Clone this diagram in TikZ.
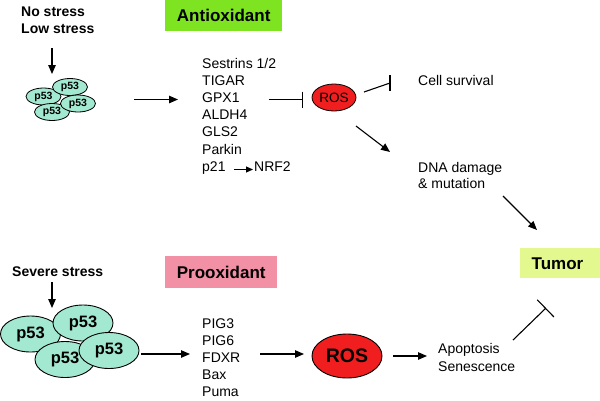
\documentclass[tikz,border=0pt]{standalone}
\usepackage{fontspec}
\setmainfont{Liberation Sans}
\usetikzlibrary{arrows.meta,shapes.geometric,calc}
\definecolor{antigreen}{HTML}{7EE320}
\definecolor{propink}{HTML}{F290A6}
\definecolor{tumorcol}{HTML}{E3F98F}
\definecolor{p53col}{HTML}{A3E8D0}
\definecolor{roscol}{HTML}{F01E1E}
\begin{document}
\begin{tikzpicture}[x=1pt,y=-1pt,
 lbl/.style={anchor=base west, inner sep=0, font=\fontsize{14}{16}\selectfont},
 blbl/.style={anchor=base west, inner sep=0, font=\fontsize{14}{16}\selectfont\bfseries},
 hdr/.style={inner sep=0, font=\fontsize{17}{19}\selectfont\bfseries},
 arr/.style={line width=1.1pt, -{Triangle[length=9pt,width=7.5pt]}},
 sarr/.style={line width=1pt, -{Triangle[length=7pt,width=6pt]}},
 inh/.style={line width=1.1pt},
 psmall/.style={ellipse, draw, line width=0.8pt, fill=p53col, minimum width=35pt, minimum height=17pt, inner sep=0, font=\fontsize{10.5}{12}\selectfont\bfseries},
 pbig/.style={ellipse, draw, line width=0.9pt, fill=p53col, minimum width=60pt, minimum height=36pt, inner sep=0, font=\fontsize{16.5}{18}\selectfont\bfseries},
]
\useasboundingbox (0,0) rectangle (600,400);
\fill[white] (0,0) rectangle (600,400);

% header boxes
\node[hdr, fill=antigreen, minimum width=117pt, minimum height=31pt, anchor=north west] (antibox) at (165,0) {Antioxidant};
\node[hdr, fill=propink, minimum width=112pt, minimum height=32pt, anchor=north west] (probox) at (165,256) {Prooxidant};
\node[fill=tumorcol, minimum width=80pt, minimum height=30pt, inner sep=0, anchor=north west] (tumorbox) at (520,248) {};
\node[hdr] (tumor) at (557.5,263.5) {Tumor};

% stress labels
\node[blbl] (nostress) at (21,16) {No stress};
\node[blbl] (lowstress) at (21,33) {Low stress};
\node[blbl] (severe) at (12,276) {Severe stress};

% small p53 cluster
\node[psmall] (sa) at (43.5,96.5) {p53};
\node[psmall] (sb) at (70,87) {p53};
\node[psmall] (sc) at (52,112) {p53};
\node[psmall] (sd) at (78,103.5) {p53};

% big p53 cluster
\node[pbig] (ba) at (30.5,334) {p53};
\node[pbig] (bb) at (83,323) {p53};
\node[pbig] (bc) at (65,359.5) {p53};
\node[pbig] (bd) at (109,350.5) {p53};

% antioxidant genes
\node[lbl] (g1) at (202,68) {Sestrins 1/2};
\node[lbl] (g2) at (202,85.2) {TIGAR};
\node[lbl] (g3) at (202,102.4) {GPX1};
\node[lbl] (g4) at (202,119.6) {ALDH4};
\node[lbl] (g5) at (202,136.8) {GLS2};
\node[lbl] (g6) at (202,154) {Parkin};
\node[lbl] (g7) at (202,171.2) {p21};
\node[lbl] (nrf) at (254,171.2) {NRF2};

% prooxidant genes
\node[lbl] (h1) at (202,328) {PIG3};
\node[lbl] (h2) at (202,345) {PIG6};
\node[lbl] (h3) at (202,362) {FDXR};
\node[lbl] (h4) at (202,379) {Bax};
\node[lbl] (h5) at (202,396) {Puma};

% ROS
\node[ellipse, draw, line width=0.8pt, fill=roscol, minimum width=44pt, minimum height=27pt, inner sep=0, font=\fontsize{13.5}{16}\selectfont] (ros1) at (334,97.5) {ROS};
\node[ellipse, draw, line width=0.9pt, fill=roscol, minimum width=70pt, minimum height=44pt, inner sep=0, font=\fontsize{19.5}{22}\selectfont\bfseries] (ros2) at (347,356) {ROS};

% outcomes
\node[lbl] (cs) at (418,85) {Cell survival};
\node[lbl] (dna1) at (418,172) {DNA damage};
\node[lbl] (dna2) at (418,188) {\& mutation};
\node[lbl] (apo) at (438,353) {Apoptosis};
\node[lbl] (sen) at (438,371) {Senescence};

% connector end points
\coordinate (c1a) at (52,48);   \coordinate (c1b) at (52,74);
\coordinate (c2a) at (134,99.5); \coordinate (c2b) at (178,99.5);
\coordinate (c3a) at (234,169.5); \coordinate (c3b) at (253,169.5);
\coordinate (c4a) at (269,99.5); \coordinate (c4b) at (303,99.5);
\coordinate (c5a) at (364,92);  \coordinate (c5b) at (390,83);
\coordinate (c6a) at (356,126); \coordinate (c6b) at (390,152);
\coordinate (c7a) at (503,196); \coordinate (c7b) at (537,230);
\coordinate (d1a) at (52,282);  \coordinate (d1b) at (52,308);
\coordinate (d2a) at (141,354); \coordinate (d2b) at (190,354);
\coordinate (d3a) at (260,354); \coordinate (d3b) at (304,354);
\coordinate (d4a) at (393,356); \coordinate (d4b) at (427,356);
\coordinate (d5a) at (513,340); \coordinate (d5b) at (546,308);

% connectors
\draw[arr] (c1a) -- (c1b);
\draw[arr] (c2a) -- (c2b);
\draw[sarr] (c3a) -- (c3b);
\draw[inh, -{Bar[width=16pt,line width=1.1pt]}] (c4a) -- (c4b);
\draw[inh] (c5a) -- (c5b);
\draw[inh] ($(c5b)+(0,-8)$) -- ($(c5b)+(0,8)$);
\draw[arr] (c6a) -- (c6b);
\draw[arr] (c7a) -- (c7b);
\draw[arr] (d1a) -- (d1b);
\draw[arr] (d2a) -- (d2b);
\draw[arr] (d3a) -- (d3b);
\draw[arr] (d4a) -- (d4b);
\draw[inh, -{Bar[width=24pt,line width=1.1pt]}] (d5a) -- (d5b);
\end{tikzpicture}
\end{document}
